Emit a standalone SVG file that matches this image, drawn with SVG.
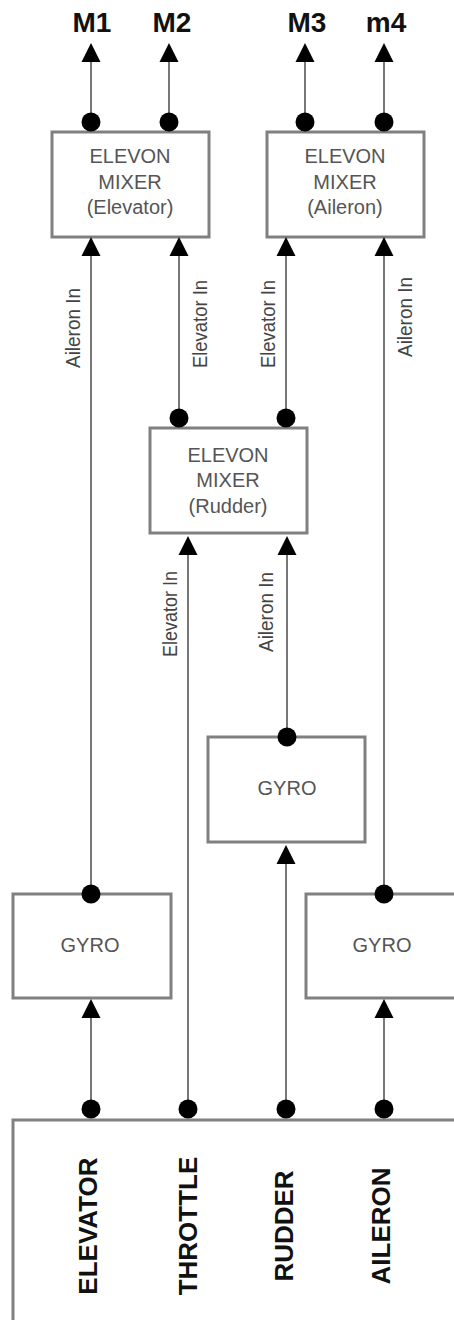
<svg xmlns="http://www.w3.org/2000/svg" width="454" height="1320" viewBox="0 0 454 1320">
<style>
.box{fill:#fff;stroke:#808080;stroke-width:3}
.bt{font-family:"Liberation Sans",Arial,sans-serif;font-size:20px;fill:#555;text-anchor:middle}
.out{font-family:"Liberation Sans",Arial,sans-serif;font-size:28px;font-weight:bold;fill:#111;text-anchor:middle}
.in{font-family:"Liberation Sans",Arial,sans-serif;font-size:26px;font-weight:bold;fill:#111;text-anchor:middle}
.lbl{font-family:"Liberation Sans",Arial,sans-serif;font-size:21px;fill:#444;text-anchor:middle}
.wire{fill:none;stroke:#777;stroke-width:2;marker-start:url(#dot);marker-end:url(#arr)}
</style>
<defs>
<marker id="arr" markerUnits="userSpaceOnUse" markerWidth="20" markerHeight="20" viewBox="0 -10 20 20" refX="0" refY="0" orient="auto"><path d="M0,-9.5 L19,0 L0,9.5 z" fill="#000"/></marker>
<marker id="dot" markerUnits="userSpaceOnUse" markerWidth="20" markerHeight="20" viewBox="-10 -10 20 20" refX="0" refY="0"><circle r="9.5" fill="#000"/></marker>
</defs>
<rect width="454" height="1320" fill="#fff"/>
<g id="outputs">
<text class="out" x="92" y="32">M1</text>
<text class="out" x="172" y="32">M2</text>
<text class="out" x="307" y="32">M3</text>
<text class="out" x="386" y="32">m4</text>
</g>
<g id="mixer-elevator">
<rect class="box" x="52" y="132" width="157" height="105"/>
<text class="bt" x="130" y="163">ELEVON</text>
<text class="bt" x="130" y="189">MIXER</text>
<text class="bt" x="130" y="214">(Elevator)</text>
</g>
<g id="mixer-aileron">
<rect class="box" x="267" y="132" width="157" height="105"/>
<text class="bt" x="345" y="163">ELEVON</text>
<text class="bt" x="345" y="189">MIXER</text>
<text class="bt" x="345" y="214">(Aileron)</text>
</g>
<g id="mixer-rudder">
<rect class="box" x="150" y="428" width="157" height="105"/>
<text class="bt" x="228" y="462">ELEVON</text>
<text class="bt" x="228" y="487">MIXER</text>
<text class="bt" x="228" y="513">(Rudder)</text>
</g>
<g id="gyro-rudder">
<rect class="box" x="208" y="737" width="157" height="105"/>
<text class="bt" x="287" y="795">GYRO</text>
</g>
<g id="gyro-elevator">
<rect class="box" x="13" y="894" width="158" height="104"/>
<text class="bt" x="90" y="952">GYRO</text>
</g>
<g id="gyro-aileron">
<rect class="box" x="306" y="894" width="200" height="104"/>
<text class="bt" x="382" y="952">GYRO</text>
</g>
<g id="receiver">
<rect class="box" x="13" y="1120" width="470" height="230"/>
<text class="in" transform="translate(97,1226) rotate(-90)">ELEVATOR</text>
<text class="in" transform="translate(197,1226) rotate(-90)">THROTTLE</text>
<text class="in" transform="translate(293,1226) rotate(-90)">RUDDER</text>
<text class="in" transform="translate(390,1226) rotate(-90)">AILERON</text>
</g>
<g id="connectors">
<path class="wire" d="M91 122 V62"/>
<path class="wire" d="M169 122 V62"/>
<path class="wire" d="M305 122 V62"/>
<path class="wire" d="M384 122 V62"/>
<path class="wire" d="M91 894 V256"/>
<path class="wire" d="M179 418 V256"/>
<path class="wire" d="M286 418 V256"/>
<path class="wire" d="M384 894 V256"/>
<path class="wire" d="M188 1109 V555"/>
<path class="wire" d="M287 737 V555"/>
<path class="wire" d="M286 1109 V864"/>
<path class="wire" d="M91 1109 V1018"/>
<path class="wire" d="M384 1109 V1018"/>
<text class="lbl" transform="translate(80,328) rotate(-90)" textLength="80" lengthAdjust="spacingAndGlyphs">Aileron In</text>
<text class="lbl" transform="translate(207,324) rotate(-90)" textLength="88" lengthAdjust="spacingAndGlyphs">Elevator In</text>
<text class="lbl" transform="translate(275,324) rotate(-90)" textLength="88" lengthAdjust="spacingAndGlyphs">Elevator In</text>
<text class="lbl" transform="translate(412,317) rotate(-90)" textLength="80" lengthAdjust="spacingAndGlyphs">Aileron In</text>
<text class="lbl" transform="translate(177,614) rotate(-90)" textLength="86" lengthAdjust="spacingAndGlyphs">Elevator In</text>
<text class="lbl" transform="translate(273,612) rotate(-90)" textLength="80" lengthAdjust="spacingAndGlyphs">Aileron In</text>
</g>
</svg>
